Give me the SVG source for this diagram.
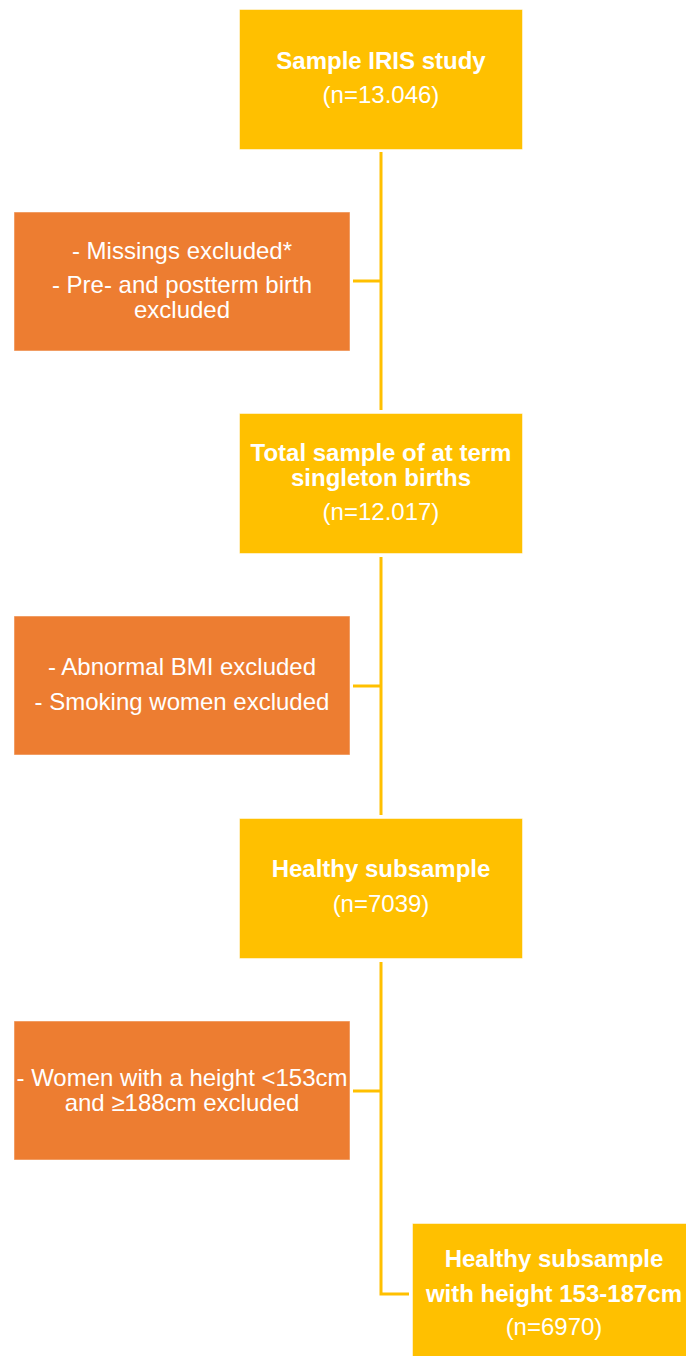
<svg xmlns="http://www.w3.org/2000/svg" width="686" height="1356" viewBox="0 0 686 1356">
<style>
.main{fill:#FFC000;stroke:#FFFFFF;stroke-opacity:0.5;stroke-width:1}
.excl{fill:#ED7D31;stroke:#FFFFFF;stroke-opacity:0.5;stroke-width:1}
text{font-family:"Liberation Sans",Arial,sans-serif;font-size:24px;fill:#FFFFFF;text-anchor:middle}
.b{font-weight:bold}
.conn{fill:none;stroke:#FFC000;stroke-width:3}
</style>
<rect width="686" height="1356" fill="#FFFFFF"/>
<g id="connectors">
<line class="conn" x1="381" y1="152" x2="381" y2="410"/>
<line class="conn" x1="353" y1="281" x2="381" y2="281"/>
<line class="conn" x1="381" y1="557" x2="381" y2="815"/>
<line class="conn" x1="353" y1="686" x2="381" y2="686"/>
<polyline class="conn" points="381,962 381,1294 409,1294"/>
<line class="conn" x1="353" y1="1091" x2="381" y2="1091"/>
</g>
<g id="node-sample">
<rect class="main" x="239.5" y="9.5" width="283" height="140"/>
<text class="b" x="381" y="69">Sample IRIS study</text>
<text x="381" y="103">(n=13.046)</text>
</g>
<g id="node-excl1">
<rect class="excl" x="14" y="212" width="336" height="139"/>
<text x="182" y="259">- Missings excluded*</text>
<text x="182" y="293">- Pre- and postterm birth</text>
<text x="182" y="318">excluded</text>
</g>
<g id="node-total">
<rect class="main" x="239.5" y="413.5" width="283" height="140"/>
<text class="b" x="381" y="461">Total sample of at term</text>
<text class="b" x="381" y="486">singleton births</text>
<text x="381" y="520">(n=12.017)</text>
</g>
<g id="node-excl2">
<rect class="excl" x="14" y="616" width="336" height="139"/>
<text x="182" y="675">- Abnormal BMI excluded</text>
<text x="182" y="710">- Smoking women excluded</text>
</g>
<g id="node-healthy">
<rect class="main" x="239.5" y="818.5" width="283" height="140"/>
<text class="b" x="381" y="877">Healthy subsample</text>
<text x="381" y="912">(n=7039)</text>
</g>
<g id="node-excl3">
<rect class="excl" x="14" y="1021" width="336" height="139"/>
<text x="182" y="1086">- Women with a height &lt;153cm</text>
<text x="182" y="1111">and ≥188cm excluded</text>
</g>
<g id="node-final">
<rect class="main" x="412.5" y="1223.5" width="283" height="140"/>
<text class="b" x="554" y="1267">Healthy subsample</text>
<text class="b" x="554" y="1302">with height 153-187cm</text>
<text x="554" y="1335">(n=6970)</text>
</g>
</svg>
